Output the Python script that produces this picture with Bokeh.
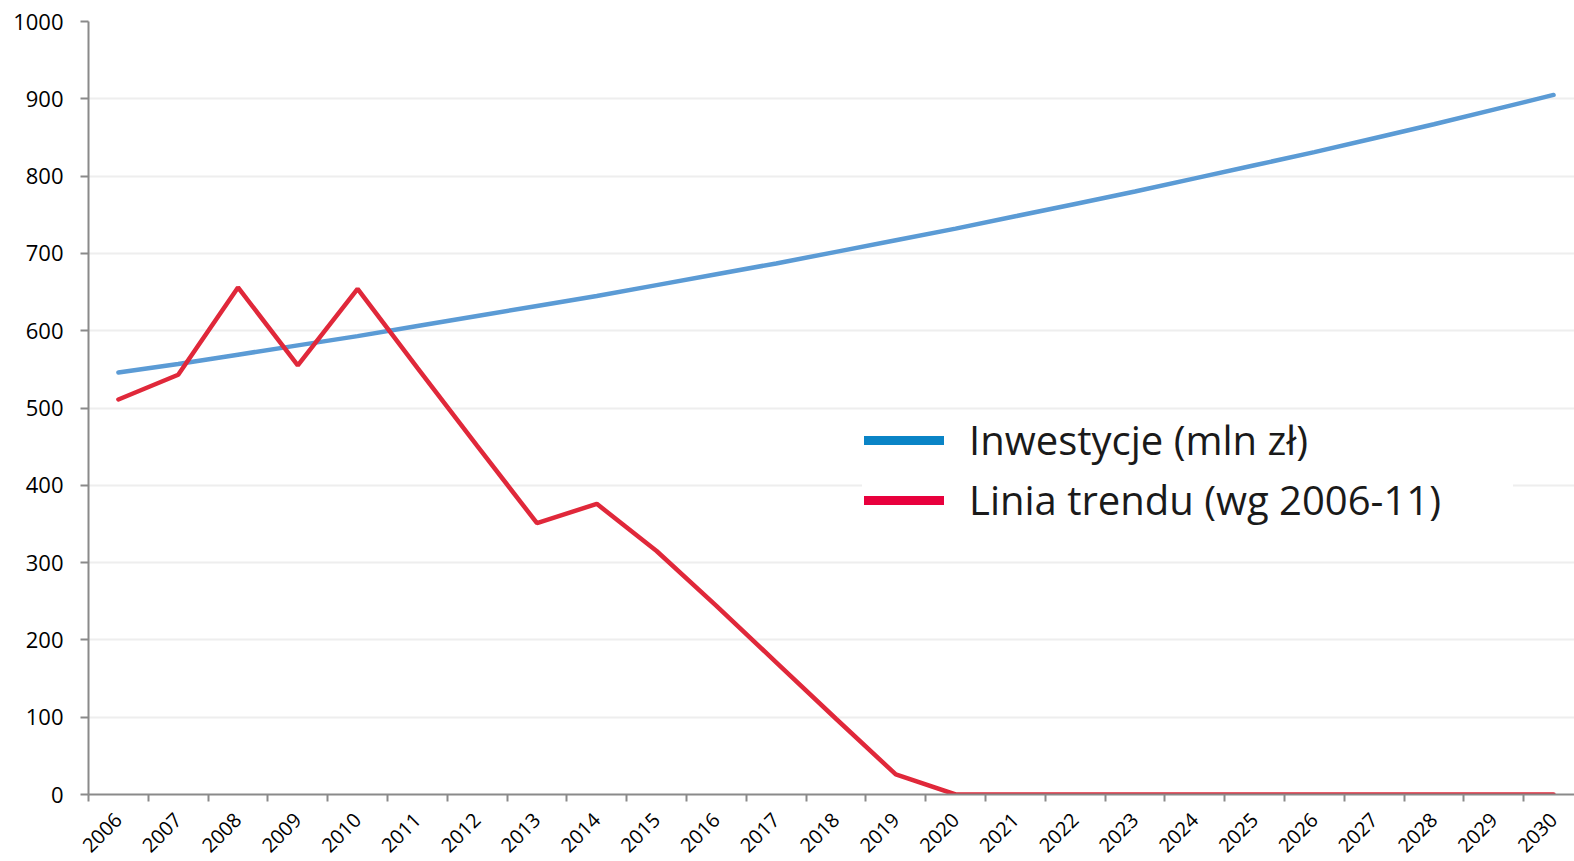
import math
from bokeh.plotting import figure
from bokeh.models import Range1d, FixedTicker, Legend, LegendItem
from bokeh.embed import file_html
from bokeh.resources import INLINE

years = list(range(2006, 2031))
inwestycje = [546, 557, 569, 581, 593, 606, 619, 632, 645, 659, 673, 687, 702,
              717, 732, 748, 764, 780, 797, 814, 831, 849, 867, 886, 905]
trend = [511, 543, 656, 555, 654, 552, 451, 351, 376, 315, 244, 171, 98,
         26, 0, 0, 0, 0, 0, 0, 0, 0, 0, 0, 0]
y_ticks = list(range(0, 1001, 100))
series_names = ["Inwestycje (mln zł)", "Linia trendu (wg 2006-11)"]

xs = [y - years[0] for y in years]
nan = float("nan")

p = figure(width=1574, height=861, output_backend="svg", toolbar_location=None,
           x_range=Range1d(-0.5, 24.35), y_range=Range1d(0, 1000),
           min_border_left=88, min_border_right=0, min_border_top=21,
           min_border_bottom=66)
p.outline_line_color = None
p.background_fill_color = "white"
p.border_fill_color = "white"

l1 = p.line(xs, inwestycje, line_color="#5b9bd5", line_width=4.5, line_cap="round")
l2 = p.line(xs, trend, line_color="#e0283a", line_width=4.5, line_cap="round")

# legend-only glyphs (thicker, as in the reference); NaN data draws nothing on the plot
d1 = p.line(x=[nan, nan], y=[nan, nan], line_color="#0a84c6", line_width=9, line_cap="round")
d2 = p.line(x=[nan, nan], y=[nan, nan], line_color="#e8003d", line_width=9, line_cap="round")

legend = Legend(items=[LegendItem(label=series_names[0], renderers=[d1]),
                       LegendItem(label=series_names[1], renderers=[d2])],
                location=(774, 265))
legend.label_text_font = "Open Sans"
legend.label_text_font_size = "40px"
legend.label_text_color = "#1a1a1a"
legend.glyph_width = 80
legend.glyph_height = 46
legend.label_height = 46
legend.label_width = 542
legend.label_standoff = 25
legend.spacing = 5
legend.padding = 2
legend.margin = 0
legend.border_line_alpha = 0
legend.background_fill_color = "white"
legend.background_fill_alpha = 1
p.add_layout(legend, "center")

# y axis
p.yaxis.ticker = FixedTicker(ticks=y_ticks)
p.yaxis.major_tick_out = 8
p.yaxis.major_tick_in = 0
p.yaxis.minor_tick_out = 0
p.yaxis.minor_tick_in = 0
p.yaxis.axis_line_color = "#8a8a8a"
p.yaxis.axis_line_width = 2
p.yaxis.major_tick_line_color = "#8a8a8a"
p.yaxis.major_tick_line_width = 2
p.yaxis.major_label_text_font = "Open Sans"
p.yaxis.major_label_text_font_size = "22px"
p.yaxis.major_label_text_color = "#000000"
p.yaxis.major_label_standoff = 17

# x axis
bounds = [i - 0.5 for i in range(len(years))]
p.xaxis.ticker = FixedTicker(ticks=xs, minor_ticks=bounds)
p.xaxis.major_label_overrides = {x: str(y) for x, y in zip(xs, years)}
p.xaxis.major_label_orientation = math.pi / 4
p.xaxis.major_tick_out = 0
p.xaxis.major_tick_in = 0
p.xaxis.minor_tick_out = 7
p.xaxis.minor_tick_in = 0
p.xaxis.minor_tick_line_color = "#8a8a8a"
p.xaxis.minor_tick_line_width = 2
p.xaxis.axis_line_color = "#8a8a8a"
p.xaxis.axis_line_width = 2
p.xaxis.major_label_text_font = "Open Sans"
p.xaxis.major_label_text_font_size = "20px"
p.xaxis.major_label_text_color = "#000000"
p.xaxis.major_label_standoff = 15

p.xgrid.grid_line_color = None
p.ygrid.ticker = FixedTicker(ticks=y_ticks)
p.ygrid.grid_line_color = "#eeeeee"
p.ygrid.grid_line_width = 2

open("out.html", "w").write(file_html(p, INLINE))
